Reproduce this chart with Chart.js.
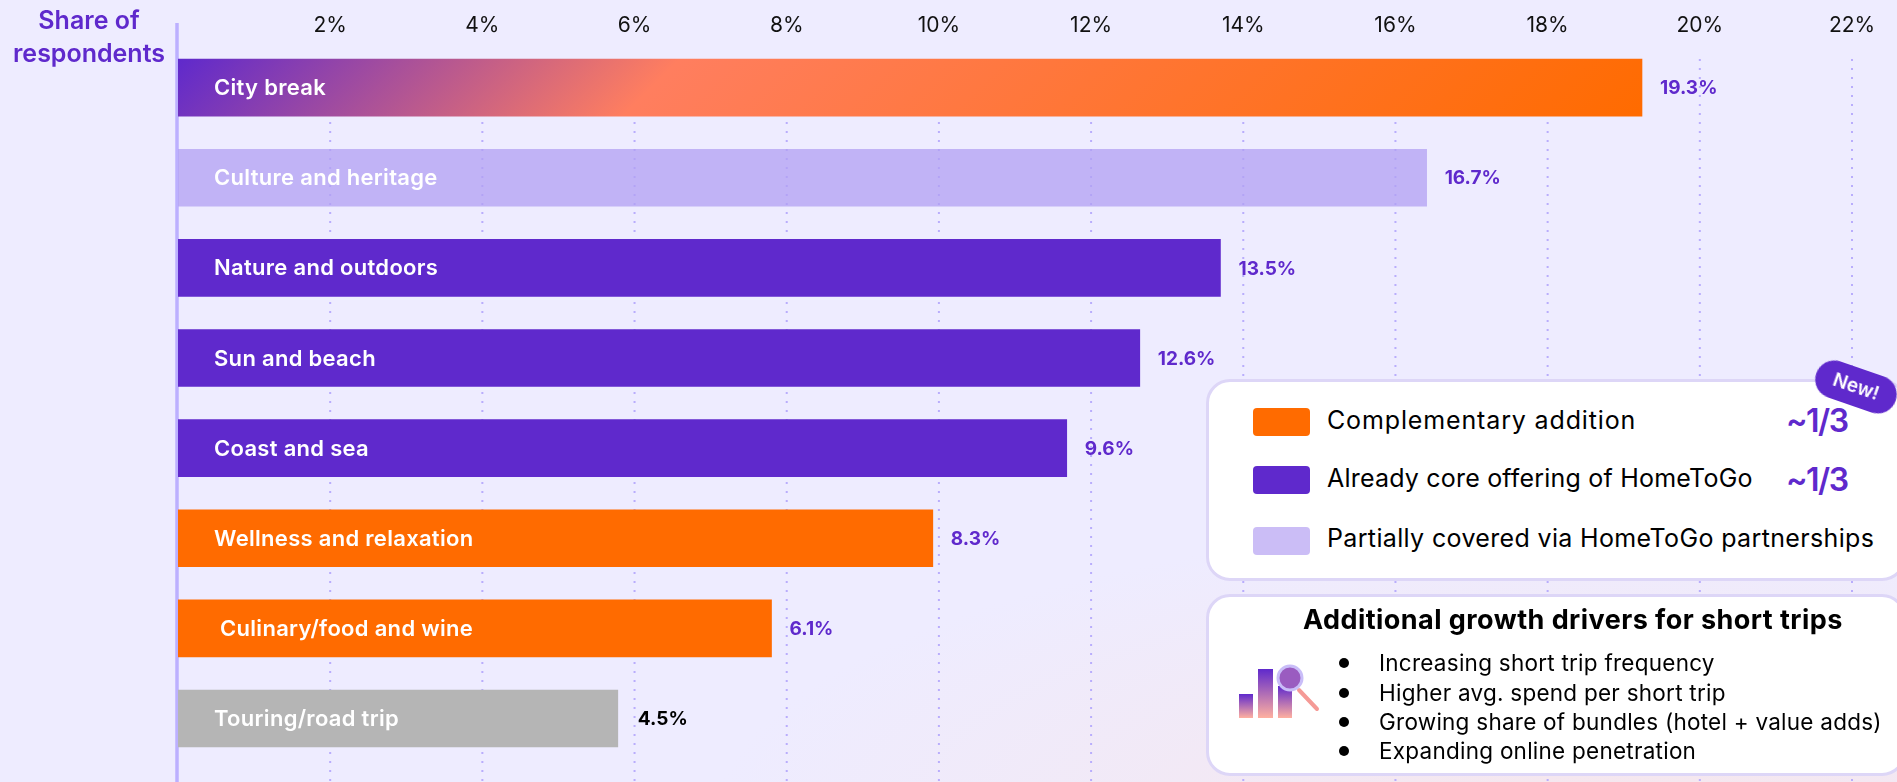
<!DOCTYPE html>
<html>
<head>
<meta charset="utf-8">
<title>Short trip types</title>
<script src="https://cdn.jsdelivr.net/npm/chart.js@4"></script>
<style>
html, body { margin: 0; padding: 0; }
body {
    width: 1897px; height: 782px; overflow: hidden; position: relative;
    font-family: Inter, sans-serif; color: #000;
    background: radial-gradient(ellipse 900px 300px at 85% 105%, #f6e6ec 0%, rgba(246,230,236,0) 100%), #eeecff;
}
#chart { position: absolute; left: 0; top: 0; }
.abs { position: absolute; white-space: nowrap; }
.axisTitle { left: 0; width: 178px; text-align: center; color: #5f29cc; font-weight: 600; font-size: 25px; line-height: 33px; top: 4px; }
.panel { left: 1206px; width: 700px; box-sizing: border-box; background: #fff; border: 3px solid #ddd6f7; border-radius: 24px; }
.swatch { left: 1253px; width: 57px; height: 28px; border-radius: 4px; }
.legendText { left: 1327px; font-size: 25px; line-height: 28px; }
.oneThird { left: 1786px; font-size: 32px; line-height: 34px; font-weight: 600; color: #5f29cc; letter-spacing: -1.5px; }
.badge { left: 1814px; top: 368px; width: 84px; height: 38px; border-radius: 19px; background: #5f29cc; color: #fff; font-weight: 600; font-size: 19px; line-height: 38px; text-align: center; transform: rotate(19deg); }
.driversTitle { left: 1303px; font-size: 27px; line-height: 30px; font-weight: 700; letter-spacing: 0.45px; top: 605px; }
.bullet { left: 1339px; width: 10px; height: 10px; border-radius: 50%; background: #000; }
.driver { left: 1379px; font-size: 22.5px; line-height: 26px; letter-spacing: 0.25px; }
</style>
</head>
<body>
<canvas id="chart" width="1897" height="782"></canvas>
<div class="abs axisTitle">Share of<br>respondents</div>

<div class="abs panel" style="top:379px;height:202px"></div>
<div class="abs swatch" style="top:408px;background:#ff6b00"></div>
<div class="abs swatch" style="top:466px;background:#5f29cc"></div>
<div class="abs swatch" style="top:527px;background:#cbbdf6"></div>
<div class="abs legendText" style="top:406px;letter-spacing:0.86px">Complementary addition</div>
<div class="abs legendText" style="top:464px;letter-spacing:0.2px">Already core offering of HomeToGo</div>
<div class="abs legendText" style="top:524px;letter-spacing:0.35px">Partially covered via HomeToGo partnerships</div>
<div class="abs oneThird" style="top:404px">~1/3</div>
<div class="abs oneThird" style="top:463px">~1/3</div>
<div class="abs badge">New!</div>

<div class="abs panel" style="top:594px;height:182px"></div>
<div class="abs driversTitle">Additional growth drivers for short trips</div>
<svg class="abs" style="left:1235px;top:660px" width="90" height="64" viewBox="0 0 90 64">
    <defs>
        <linearGradient id="iconBar" x1="0" y1="0" x2="0" y2="1">
            <stop offset="0" stop-color="#5f29cc"/>
            <stop offset="1" stop-color="#ffb0a0"/>
        </linearGradient>
    </defs>
    <rect x="4" y="34" width="14" height="24" fill="url(#iconBar)"/>
    <rect x="23" y="9" width="15" height="49" fill="url(#iconBar)"/>
    <rect x="43" y="26" width="14" height="32" fill="url(#iconBar)"/>
    <line x1="64" y1="30" x2="82" y2="49" stroke="#f59a96" stroke-width="4" stroke-linecap="round"/>
    <circle cx="55" cy="18" r="12" fill="#9a5cc0" stroke="#c9bdf8" stroke-width="3"/>
</svg>
<div class="abs bullet" style="top:658px"></div>
<div class="abs bullet" style="top:688px"></div>
<div class="abs bullet" style="top:717px"></div>
<div class="abs bullet" style="top:746px"></div>
<div class="abs driver" style="top:650px">Increasing short trip frequency</div>
<div class="abs driver" style="top:680px">Higher avg. spend per short trip</div>
<div class="abs driver" style="top:709px">Growing share of bundles (hotel + value adds)</div>
<div class="abs driver" style="top:738px">Expanding online penetration</div>

<script>
const categories = ['City break', 'Culture and heritage', 'Nature and outdoors', 'Sun and beach',
    'Coast and sea', 'Wellness and relaxation', ' Culinary/food and wine', 'Touring/road trip'];
// bar lengths as read against the axis, they do not always agree with the printed labels
const barLengths = [19.24, 16.41, 13.70, 12.64, 11.68, 9.92, 7.80, 5.78];
const printedShares = ['19.3%', '16.7%', '13.5%', '12.6%', '9.6%', '8.3%', '6.1%', '4.5%'];
const xTicks = [2, 4, 6, 8, 10, 12, 14, 16, 18, 20, 22];

const purple = '#5f29cc';
const orange = '#ff6b00';
const lilac = 'rgba(178,160,243,0.75)';
const grey = '#b5b5b5';
const barColors = ['gradient', lilac, purple, purple, purple, orange, orange, grey];
const labelColors = [purple, purple, purple, purple, purple, purple, purple, '#000'];

const cityBreakFill = (context) => {
    const chart = context.chart;
    const x = chart.scales.x;
    const y = chart.scales.y;
    if (!x || !y) {
        return purple;
    }
    const left = x.getPixelForValue(0);
    const top = y.getPixelForValue(0) - 28.5;
    const run = (x.getPixelForValue(barLengths[0]) - left + 57) / 2;
    if (!isFinite(left) || !isFinite(top) || !isFinite(run)) {
        return purple;
    }
    const gradient = chart.ctx.createLinearGradient(left, top, left + run, top + run);
    gradient.addColorStop(0, purple);
    gradient.addColorStop(0.33, '#ff7e5f');
    gradient.addColorStop(1, orange);
    return gradient;
};

// dotted lines sit behind the bars and only start at the first bar top
const dottedGrid = {
    id: 'dottedGrid',
    beforeDatasetsDraw(chart) {
        const ctx = chart.ctx;
        const x = chart.scales.x;
        ctx.save();
        ctx.strokeStyle = '#b9adfc';
        ctx.lineWidth = 2;
        ctx.setLineDash([2, 7]);
        x.ticks.forEach(tick => {
            const px = x.getPixelForValue(tick.value);
            ctx.beginPath();
            ctx.moveTo(px, 59);
            ctx.lineTo(px, 782);
            ctx.stroke();
        });
        ctx.setLineDash([]);
        ctx.strokeStyle = '#bcb0ff';
        ctx.lineWidth = 3.5;
        const zero = x.getPixelForValue(0) - 1;
        ctx.beginPath();
        ctx.moveTo(zero, 23);
        ctx.lineTo(zero, 782);
        ctx.stroke();
        ctx.restore();
    }
};

const barLabels = {
    id: 'barLabels',
    afterDatasetsDraw(chart) {
        const ctx = chart.ctx;
        const x = chart.scales.x;
        const y = chart.scales.y;
        ctx.save();
        ctx.textBaseline = 'middle';
        categories.forEach((name, i) => {
            const py = y.getPixelForValue(i);
            ctx.font = '600 22px Inter';
            ctx.letterSpacing = '0.3px';
            ctx.fillStyle = '#fff';
            ctx.textAlign = 'left';
            const nameX = name.startsWith(' ') ? 220 : 214;
            ctx.fillText(name.trim(), nameX, py + 1);
            ctx.font = '700 19px Inter';
            ctx.letterSpacing = '0px';
            ctx.fillStyle = labelColors[i];
            const endPad = i === 7 ? 20 : 18;
            ctx.fillText(printedShares[i], x.getPixelForValue(barLengths[i]) + endPad, py + 1);
        });
        ctx.restore();
    }
};

new Chart(document.getElementById('chart').getContext('2d'), {
    type: 'bar',
    data: {
        labels: categories,
        datasets: [{
            data: barLengths,
            barThickness: 57,
            borderWidth: 0,
            backgroundColor: (context) => {
                const color = barColors[context.dataIndex];
                return color === 'gradient' ? cityBreakFill(context) : color;
            }
        }]
    },
    options: {
        indexAxis: 'y',
        responsive: false,
        animation: false,
        layout: {
            padding: { left: 178, right: 45, top: 0, bottom: 18.4 }
        },
        plugins: {
            legend: { display: false },
            tooltip: { enabled: false }
        },
        scales: {
            x: {
                position: 'top',
                min: 0,
                max: 22,
                border: { display: false },
                grid: { display: false, drawTicks: false },
                afterFit: (scale) => { scale.height = 42.5; },
                afterBuildTicks: (scale) => { scale.ticks = xTicks.map(value => ({ value })); },
                ticks: {
                    padding: 4,
                    maxRotation: 0,
                    autoSkip: false,
                    color: '#111',
                    font: { family: 'Inter', size: 21 },
                    callback: (value) => value + '%'
                }
            },
            y: {
                display: false,
                grid: { display: false }
            }
        }
    },
    plugins: [dottedGrid, barLabels]
});
</script>
</body>
</html>
